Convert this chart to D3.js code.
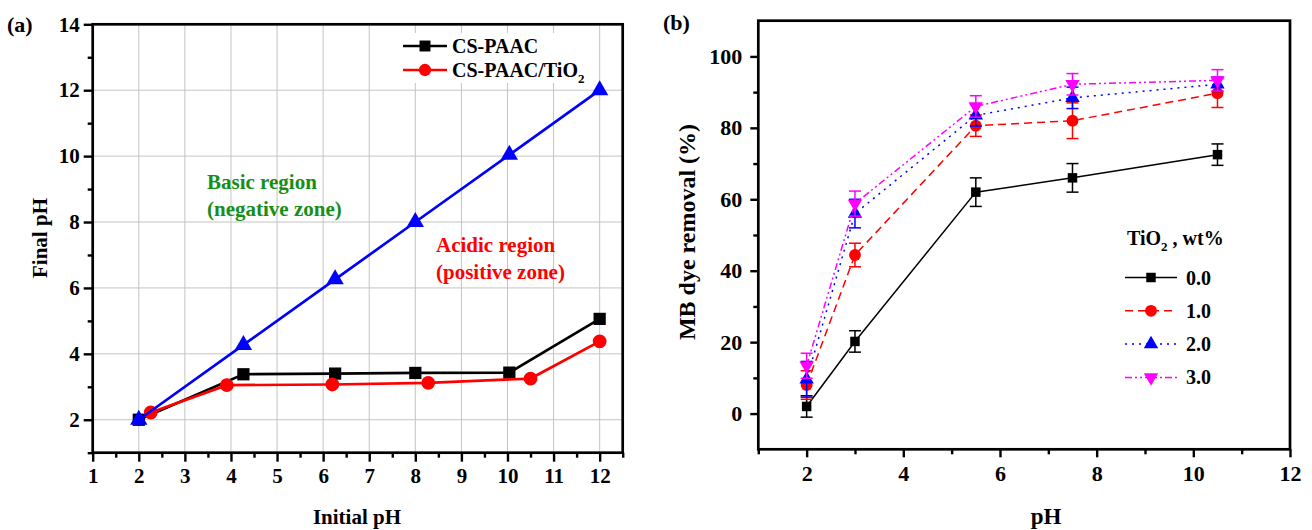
<!DOCTYPE html>
<html>
<head>
<meta charset="utf-8">
<script src="https://cdn.jsdelivr.net/npm/d3@7"></script>
<style>
  body { margin: 0; background: #fff; }
  text { font-family: "Liberation Serif", "Times New Roman", serif; font-weight: bold; }
</style>
</head>
<body>
<svg id="chart" width="1312" height="530"></svg>
<script>
// ---- panel (a): point of zero charge ----
const initPH_paac = [2, 4.27, 6.26, 8, 10.04, 12];
const finalPH_paac = [2.0, 3.38, 3.40, 3.42, 3.43, 5.06];
const initPH_tio2 = [2.26, 3.91, 6.2, 8.28, 10.5, 12];
const finalPH_tio2 = [2.22, 3.05, 3.07, 3.12, 3.25, 4.38];
const initPH_ref = [2, 4.27, 6.26, 8, 10.04, 12];
const finalPH_ref = [2, 4.27, 6.26, 8, 10.04, 12];

// ---- panel (b): MB removal vs pH ----
const pH = [2, 3, 5.5, 7.5, 10.5];
const removal_00 = [2, 20.2, 62, 66, 72.5];
const err_00 = [3, 3, 4, 4, 3];
const removal_10 = [8, 44.4, 80.6, 82, 89.7];
const err_10 = [4, 3.3, 3, 5, 4];
const removal_20 = [9.6, 56, 83.5, 88.4, 92.2];
const err_20 = [5, 4, 3, 3, 2];
const removal_30 = [13.4, 58.8, 86, 92.2, 93.3];
const err_30 = [3.5, 3.5, 3, 3, 3];
const tio2Labels = ["0.0", "1.0", "2.0", "3.0"];

const svg = d3.select("#chart");

function drawMarker(g, shape, x, y, size, color) {
  const sym = { square: d3.symbolSquare, circle: d3.symbolCircle, up: d3.symbolTriangle, down: d3.symbolTriangle }[shape];
  g.append("path")
    .attr("d", d3.symbol(sym, size)())
    .attr("transform", `translate(${x},${y})` + (shape === "down" ? " rotate(180)" : ""))
    .attr("fill", color);
}

// ================= (a) =================
{
  const x = d3.scaleLinear([1, 12.5], [92.7, 622.7]);
  const y = d3.scaleLinear([1, 14], [452.7, 24.3]);
  const g = svg.append("g");

  // grid
  g.append("g").selectAll("line").data(d3.range(2, 13)).join("line")
    .attr("x1", d => x(d)).attr("x2", d => x(d))
    .attr("y1", y(1)).attr("y2", y(14))
    .attr("stroke", "#c4c4c4").attr("stroke-width", 1);
  g.append("g").selectAll("line").data(d3.range(2, 14, 2)).join("line")
    .attr("x1", x(1)).attr("x2", x(12.5))
    .attr("y1", d => y(d)).attr("y2", d => y(d))
    .attr("stroke", "#c4c4c4").attr("stroke-width", 1);

  // legend background (hides grid)
  g.append("rect").attr("x", 398).attr("y", 33).attr("width", 196).attr("height", 50).attr("fill", "#fff");

  const series = [
    { xs: initPH_paac, ys: finalPH_paac, color: "#000", shape: "square", size: 150 },
    { xs: initPH_tio2, ys: finalPH_tio2, color: "#ff0000", shape: "circle", size: 150 },
    { xs: initPH_ref, ys: finalPH_ref, color: "#0000ff", shape: "up", size: 130 }
  ];
  const line = d3.line().x(d => x(d[0])).y(d => y(d[1]));
  series.forEach(s => {
    const pts = d3.zip(s.xs, s.ys);
    g.append("path").attr("d", line(pts)).attr("fill", "none")
      .attr("stroke", s.color).attr("stroke-width", 2.7);
    pts.forEach(p => drawMarker(g, s.shape, x(p[0]), y(p[1]), s.size, s.color));
  });

  // axes
  g.append("g").attr("transform", `translate(0,${y(1)})`)
    .call(d3.axisBottom(x).tickValues(d3.range(1, 13)).tickSize(9).tickPadding(6).tickFormat(d3.format("d")));
  g.append("g").attr("transform", `translate(0,${y(1)})`)
    .call(d3.axisBottom(x).tickValues(d3.range(1.5, 13, 1)).tickSize(5).tickFormat(""));
  g.append("g").attr("transform", `translate(${x(1)},0)`)
    .call(d3.axisLeft(y).tickValues(d3.range(2, 15, 2)).tickSize(9).tickPadding(4).tickFormat(d3.format("d")));
  g.append("g").attr("transform", `translate(${x(1)},0)`)
    .call(d3.axisLeft(y).tickValues(d3.range(1, 14, 2)).tickSize(5).tickFormat(""));
  g.selectAll(".domain").remove();
  g.selectAll(".tick line").attr("stroke", "#000").attr("stroke-width", 2.4);
  g.selectAll(".tick text").attr("font-size", 21).attr("fill", "#000");

  g.append("rect").attr("x", x(1)).attr("y", y(14)).attr("width", x(12.5) - x(1)).attr("height", y(1) - y(14))
    .attr("fill", "none").attr("stroke", "#000").attr("stroke-width", 2.7);

  // legend
  const leg = [{ label: "CS-PAAC", color: "#000", shape: "square" }, { label: "CS-PAAC/TiO", sub: "2", color: "#ff0000", shape: "circle" }];
  leg.forEach((l, i) => {
    const ly = 46 + i * 24;
    g.append("line").attr("x1", 403).attr("x2", 447).attr("y1", ly).attr("y2", ly).attr("stroke", l.color).attr("stroke-width", 2.7);
    drawMarker(g, l.shape, 425, ly, 120, l.color);
    const t = g.append("text").attr("x", 452).attr("y", ly + 7).attr("font-size", 20).text(l.label);
    if (l.sub) t.append("tspan").attr("font-size", 13).attr("dy", 6).text(l.sub);
  });

  // annotations
  g.append("text").attr("x", 207).attr("y", 189).attr("font-size", 21).attr("fill", "#168f16").text("Basic region");
  g.append("text").attr("x", 207).attr("y", 216).attr("font-size", 21).attr("fill", "#168f16").text("(negative zone)");
  g.append("text").attr("x", 436).attr("y", 252).attr("font-size", 21).attr("fill", "#ff0000").text("Acidic region");
  g.append("text").attr("x", 436).attr("y", 279).attr("font-size", 21).attr("fill", "#ff0000").text("(positive zone)");

  g.append("text").attr("x", 357).attr("y", 524).attr("text-anchor", "middle").attr("font-size", 21).text("Initial pH");
  g.append("text").attr("transform", `translate(47,238) rotate(-90)`).attr("text-anchor", "middle").attr("font-size", 21).text("Final pH");
  g.append("text").attr("x", 7).attr("y", 32).attr("font-size", 22).text("(a)");
}

// ================= (b) =================
{
  const x = d3.scaleLinear([1, 12], [758.3, 1290]);
  const y = d3.scaleLinear([-10, 110], [449.3, 20.7]);
  const g = svg.append("g");

  const series = [
    { ys: removal_00, es: err_00, color: "#000", shape: "square", size: 90, dash: null },
    { ys: removal_10, es: err_10, color: "#ff0000", shape: "circle", size: 110, dash: "8,5" },
    { ys: removal_20, es: err_20, color: "#0000ff", shape: "up", size: 90, dash: "2,5" },
    { ys: removal_30, es: err_30, color: "#ff00ff", shape: "down", size: 90, dash: "7,3,2,3,2,3" }
  ];
  const line = d3.line().x(d => x(d[0])).y(d => y(d[1]));
  series.forEach(s => {
    const pts = d3.zip(pH, s.ys, s.es);
    g.append("path").attr("d", line(pts)).attr("fill", "none")
      .attr("stroke", s.color).attr("stroke-width", 1.5).attr("stroke-dasharray", s.dash);
    pts.forEach(p => {
      const cx = x(p[0]);
      g.append("line").attr("x1", cx).attr("x2", cx).attr("y1", y(p[1] - p[2])).attr("y2", y(p[1] + p[2]))
        .attr("stroke", s.color).attr("stroke-width", 1.5);
      [p[1] - p[2], p[1] + p[2]].forEach(v => g.append("line").attr("x1", cx - 6).attr("x2", cx + 6)
        .attr("y1", y(v)).attr("y2", y(v)).attr("stroke", s.color).attr("stroke-width", 1.5));
      drawMarker(g, s.shape, cx, y(p[1]), s.size, s.color);
    });
  });

  g.append("g").attr("transform", `translate(0,${y(-10)})`)
    .call(d3.axisBottom(x).tickValues(d3.range(2, 13, 2)).tickSize(8).tickPadding(8).tickFormat(d3.format("d")));
  g.append("g").attr("transform", `translate(0,${y(-10)})`)
    .call(d3.axisBottom(x).tickValues(d3.range(1, 12, 2)).tickSize(5).tickFormat(""));
  g.append("g").attr("transform", `translate(${x(1)},0)`)
    .call(d3.axisLeft(y).tickValues(d3.range(0, 101, 20)).tickSize(8).tickPadding(8).tickFormat(d3.format("d")));
  g.append("g").attr("transform", `translate(${x(1)},0)`)
    .call(d3.axisLeft(y).tickValues(d3.range(10, 100, 20)).tickSize(5).tickFormat(""));
  g.selectAll(".domain").remove();
  g.selectAll(".tick line").attr("stroke", "#000").attr("stroke-width", 2.4);
  g.selectAll(".tick text").attr("font-size", 22).attr("fill", "#000");

  g.append("rect").attr("x", x(1)).attr("y", y(110)).attr("width", x(12) - x(1)).attr("height", y(-10) - y(110))
    .attr("fill", "none").attr("stroke", "#000").attr("stroke-width", 2.7);

  // legend
  const tt = g.append("text").attr("x", 1127).attr("y", 245).attr("font-size", 20).text("TiO");
  tt.append("tspan").attr("font-size", 13).attr("dy", 6).text("2");
  tt.append("tspan").attr("dy", -6).text(" , wt%");
  series.forEach((s, i) => {
    const ly = 277.5 + i * 33.3;
    g.append("line").attr("x1", 1125).attr("x2", 1177).attr("y1", ly).attr("y2", ly)
      .attr("stroke", s.color).attr("stroke-width", 1.5).attr("stroke-dasharray", s.dash);
    drawMarker(g, s.shape, 1151, ly, s.size, s.color);
    g.append("text").attr("x", 1186).attr("y", ly + 7).attr("font-size", 20).text(tio2Labels[i]);
  });

  g.append("text").attr("x", 1046).attr("y", 524).attr("text-anchor", "middle").attr("font-size", 23).text("pH");
  g.append("text").attr("transform", `translate(695,232) rotate(-90)`).attr("text-anchor", "middle").attr("font-size", 24).text("MB dye removal (%)");
  g.append("text").attr("x", 663).attr("y", 30).attr("font-size", 22).text("(b)");
}
</script>
</body>
</html>
